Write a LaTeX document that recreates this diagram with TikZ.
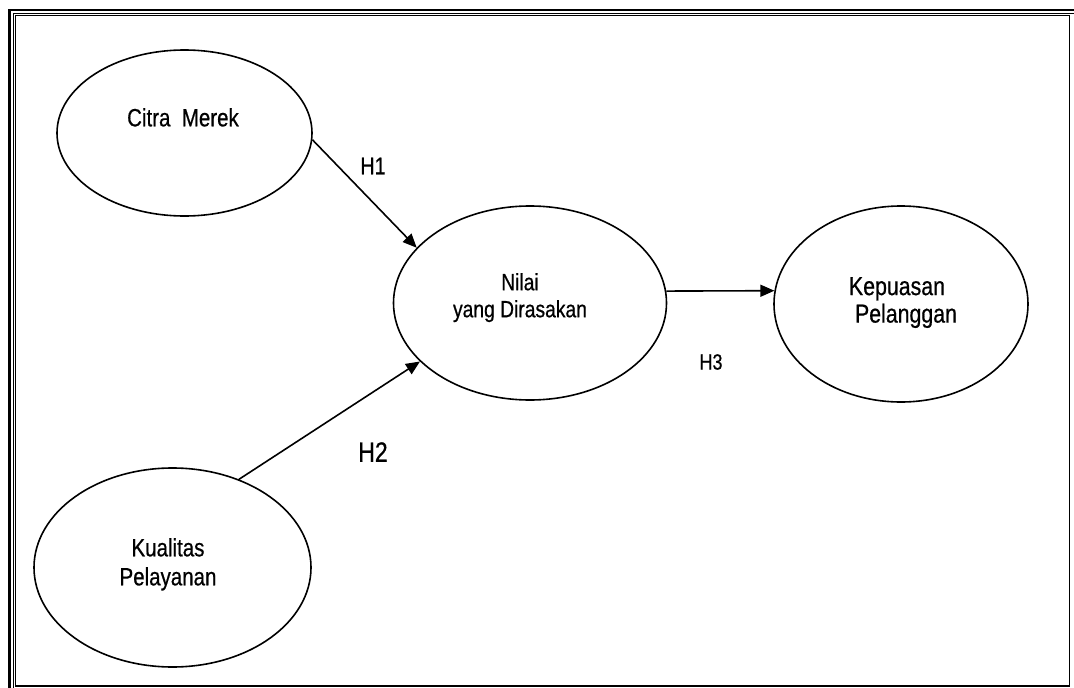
\documentclass[tikz,border=0pt]{standalone}
\usepackage{fontspec}
\setmainfont{Liberation Sans}
\newfontfamily\narrowf[FakeStretch=0.82,FakeBold=0.6]{Liberation Sans}
\usetikzlibrary{arrows.meta,shapes.geometric}
\begin{document}
\begin{tikzpicture}[x=1pt,y=-1pt,
  var/.style={draw, line width=1.6pt, shape=ellipse, inner sep=0pt},
  lbl/.style={inner sep=0pt, align=center, anchor=north},
  conn/.style={line width=1.6pt, -{Triangle[length=14pt,width=12pt]}},
  hyp/.style={inner sep=0pt}]
\fill[white] (0,0) rectangle (1074,688);
\useasboundingbox (0,0) rectangle (1074,688);
% frame
\draw[line width=2.2pt] (9.5,690) -- (9.5,10) -- (1076,10);
\draw[line width=1pt] (13,690) -- (13,13) -- (1076,13);
\draw[line width=1.6pt] (15.5,15.5) rectangle (1069.5,686);
% variables
\node[var, minimum width=255pt, minimum height=166pt] (cm) at (184.5,133) {};
\node[var, minimum width=273pt, minimum height=194pt] (nv) at (530,303) {};
\node[var, minimum width=254pt, minimum height=196pt] (kp) at (901,304) {};
\node[var, minimum width=277pt, minimum height=199pt] (kl) at (172.5,567.5) {};
% texts
\node[lbl, font=\narrowf\fontsize{25}{29}\selectfont] (cmt) at (183,108) {Citra\ \ Merek};
\node[lbl, font=\narrowf\fontsize{23.5}{27}\selectfont] (nvt) at (520,273) {Nilai\\yang Dirasakan};
\node[lbl, font=\narrowf\fontsize{26}{27.5}\selectfont] (kpt) at (897,277) {Kepuasan\\\hspace*{18pt}Pelanggan};
\node[lbl, font=\narrowf\fontsize{25}{29}\selectfont] (klt) at (168,538) {Kualitas\\Pelayanan};
% connectors
\draw[conn] (cm.-3) -- (nv.154.9);
\draw[conn] (kl.53.4) -- (nv.208.75);
\draw[conn] (nv.5) -- (kp.174.3);
% hypotheses
\node[hyp, font=\narrowf\fontsize{24}{24}\selectfont] (h1) at (373,166) {H1};
\node[hyp, font=\narrowf\fontsize{28}{28}\selectfont] (h2) at (373,452) {H2};
\node[hyp, font=\narrowf\fontsize{22}{22}\selectfont] (h3) at (711,362) {H3};
\end{tikzpicture}
\end{document}
